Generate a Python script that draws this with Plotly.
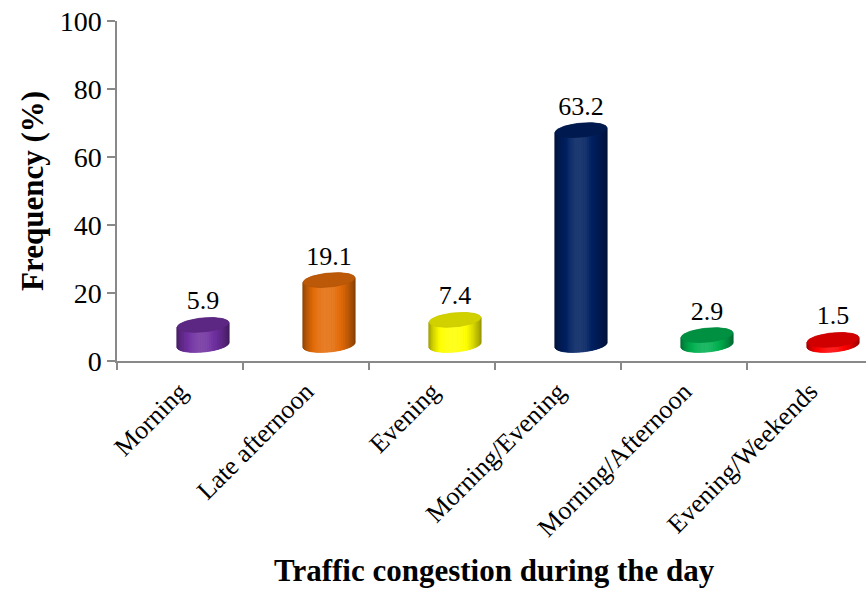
import numpy as np
import plotly.graph_objects as go

# ---------------- data ----------------
categories = ["Morning", "Late afternoon", "Evening", "Morning/Evening",
              "Morning/Afternoon", "Evening/Weekends"]
values = [5.9, 19.1, 7.4, 63.2, 2.9, 1.5]
colors = ["#7030A0", "#E46C0A", "#FFFF00", "#002060", "#00B050", "#FF0000"]
y_ticks = [0, 20, 40, 60, 80, 100]
y_title = "Frequency (%)"
x_title = "Traffic congestion during the day"

# ---------------- geometry ----------------
W, H = 866, 590
ML, MR, MT, MB = 117, 0, 21, 229
PW, PH = W - ML - MR, H - MT - MB
XPU = 126.0                      # pixels per category
YMAX = 100
YPU = PH / YMAX                  # pixels per percent
x_range = [-0.5, -0.5 + PW / XPU]

DX_PX, DY_PX = 23, 16            # 3-D depth offset of the cylinders
A_PX, B_PX = 26, 7               # ellipse half axes
TILT = np.deg2rad(5.5)
N = 36
FONT = "Liberation Serif, Times New Roman, serif"


def hex_rgb(h):
    h = h.lstrip("#")
    return [int(h[i:i + 2], 16) for i in (0, 2, 4)]


def shade(h, k):
    r = hex_rgb(h)
    if k <= 1:
        c = [v * k for v in r]
    else:
        c = [v + (255 - v) * (k - 1) for v in r]
    c = [int(max(0, min(255, round(v)))) for v in c]
    return "rgb(%d,%d,%d)" % tuple(c)


def ell(t):
    ex = (A_PX * np.cos(t) * np.cos(TILT) - B_PX * np.sin(t) * np.sin(TILT)) / XPU
    ey = (A_PX * np.cos(t) * np.sin(TILT) + B_PX * np.sin(t) * np.cos(TILT)) / YPU
    return ex, ey


fig = go.Figure()
phi = np.arctan2(B_PX * np.sin(TILT), A_PX * np.cos(TILT))
A_eff = np.hypot(A_PX * np.cos(TILT), B_PX * np.sin(TILT))

for i, (v, col) in enumerate(zip(values, colors)):
    cx = i + DX_PX / XPU
    y0 = DY_PX / YPU
    y1 = v + DY_PX / YPU
    # silhouette
    tf = np.linspace(np.pi - phi, 2 * np.pi - phi, 60)
    tb = np.linspace(2 * np.pi - phi, 3 * np.pi - phi, 60)
    fx, fy = ell(tf)
    bx, by = ell(tb)
    sx = np.concatenate([cx + fx, cx + bx])
    sy = np.concatenate([y0 + fy, y1 + by])
    fig.add_trace(go.Scatter(x=sx, y=sy, fill="toself", mode="lines",
                             line=dict(width=0), fillcolor=shade(col, 0.8),
                             hoverinfo="skip", showlegend=False))
    # shaded side patches
    ts = np.linspace(np.pi - phi, 2 * np.pi - phi, N + 1)
    for j in range(N):
        ta, tb2 = ts[j], ts[j + 1]
        xa, ya = ell(ta)
        xb, yb = ell(tb2)
        xm, _ = ell(0.5 * (ta + tb2))
        u = (xm * XPU + A_eff) / (2 * A_eff)
        k = 0.6 + 0.52 * np.sin(np.pi * min(1, max(0, u ** 0.9))) ** 0.8
        c = shade(col, k)
        fig.add_trace(go.Scatter(
            x=[cx + xa, cx + xb, cx + xb, cx + xa, cx + xa],
            y=[y0 + ya, y0 + yb, y1 + yb, y1 + ya, y0 + ya],
            fill="toself", mode="lines", line=dict(width=0.8, color=c),
            fillcolor=c, hoverinfo="skip", showlegend=False))
    # top cap
    tt = np.linspace(0, 2 * np.pi, 80)
    tx, ty = ell(tt)
    fig.add_trace(go.Scatter(x=cx + tx, y=y1 + ty, fill="toself", mode="lines",
                             line=dict(width=0.8, color=shade(col, 0.8)),
                             fillcolor=shade(col, 0.82),
                             hoverinfo="skip", showlegend=False))

# data labels
fig.add_trace(go.Scatter(
    x=[i + DX_PX / XPU for i in range(len(values))],
    y=[v + (DY_PX + 22) / YPU for v in values],
    text=["%.1f" % v for v in values], mode="text",
    textposition="middle center",
    textfont=dict(family=FONT, size=26, color="#000000"),
    hoverinfo="skip", showlegend=False, xaxis="x2"))

axis_col = "#898989"
fig.update_layout(
    width=W, height=H,
    margin=dict(l=ML, r=MR, t=MT, b=MB, pad=0),
    paper_bgcolor="white", plot_bgcolor="white",
    showlegend=False,
    xaxis=dict(range=x_range, tickvals=[k - 0.5 for k in range(len(categories) + 1)],
               ticktext=[""] * (len(categories) + 1), ticks="outside", ticklen=7,
               tickwidth=1.5, tickcolor=axis_col, showline=True, linecolor=axis_col,
               linewidth=1.5, showgrid=False, zeroline=False, fixedrange=True),
    xaxis2=dict(range=x_range, overlaying="x", anchor="y", side="bottom",
                tickvals=list(range(len(categories))), ticktext=categories,
                tickangle=-45, ticks="", showline=False, showgrid=False,
                ticklabelstandoff=9,
                zeroline=False, tickfont=dict(family=FONT, size=26, color="#000000")),
    yaxis=dict(range=[0, YMAX], tickvals=y_ticks, ticks="outside", ticklen=8,
               tickwidth=1.5, tickcolor=axis_col, showline=True, linecolor=axis_col,
               linewidth=1.5, showgrid=False, zeroline=False,
               tickfont=dict(family=FONT, size=28, color="#000000")),
    annotations=[
        dict(text="<b>%s</b>" % y_title, xref="paper", yref="paper",
             x=(32 - ML) / PW, y=0.5, textangle=-90, showarrow=False,
             xanchor="center", yanchor="middle",
             font=dict(family=FONT, size=31, color="#000000")),
        dict(text="<b>%s</b>" % x_title, xref="paper", yref="paper",
             x=(495 - ML) / PW, y=(MT + PH - 570) / PH,
             showarrow=False, xanchor="center", yanchor="middle",
             font=dict(family=FONT, size=31, color="#000000")),
    ],
)
fig.write_html("out.html")
